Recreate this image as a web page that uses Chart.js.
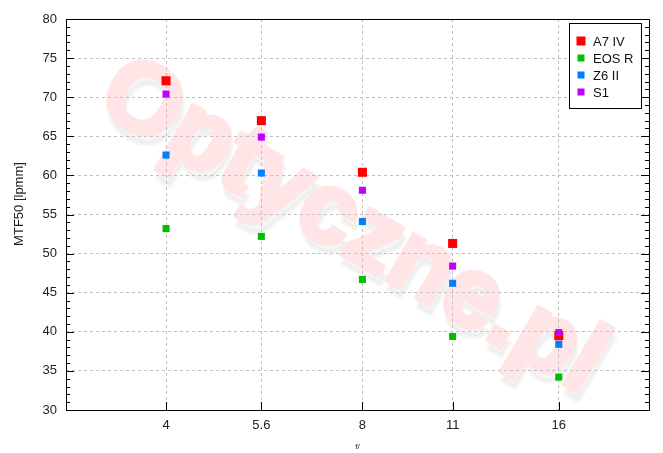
<!DOCTYPE html>
<html>
<head>
<meta charset="utf-8">
<script src="https://cdn.jsdelivr.net/npm/chart.js@4.4.1/dist/chart.umd.min.js"></script>
<style>
  html, body { margin: 0; padding: 0; background: #fff; }
  #wrap { width: 663px; height: 453px; position: relative; }
</style>
</head>
<body>
<div id="wrap"><canvas id="mtfChart"></canvas></div>
<script>
// f-numbers on the x axis
const fNumbers = [4, 5.6, 8, 11, 16];
const yTicks = [30, 35, 40, 45, 50, 55, 60, 65, 70, 75, 80];

// MTF50 readings [lpmm] per camera
const cameraNames = ['A7 IV', 'EOS R', 'Z6 II', 'S1'];
const a7iv = [72.1, 67.0, 60.4, 51.3, 39.5];
const eosR = [53.2, 52.2, 46.7, 39.4, 34.2];
const z6ii = [62.6, 60.3, 54.1, 46.2, 38.4];
const s1   = [70.4, 64.9, 58.1, 48.4, 39.9];

const colors = ['#ff0000', '#00c000', '#0080ff', '#c000ff'];
const FONT = '"Liberation Sans", Arial, sans-serif';

function toPoints(values) {
  return values.map((v, i) => ({ x: fNumbers[i], y: v }));
}

function makeDataset(idx, values, radius, order) {
  return {
    label: cameraNames[idx],
    data: toPoints(values),
    pointStyle: 'rect',
    pointRadius: radius,
    pointHoverRadius: radius,
    pointBorderWidth: 0,
    backgroundColor: colors[idx],
    borderColor: colors[idx],
    order: order
  };
}

// faint watermark behind the grid
const watermark = {
  id: 'watermark',
  beforeDraw(chart) {
    const ctx = chart.ctx;
    ctx.save();
    ctx.translate(352, 228);
    ctx.rotate(0.53);
    ctx.font = 'bold 100px ' + FONT;
    ctx.textAlign = 'center';
    ctx.textBaseline = 'middle';
    ctx.lineJoin = 'round';
    ctx.lineWidth = 5;
    ctx.fillStyle = 'rgba(225,225,225,0.35)';
    ctx.strokeStyle = 'rgba(225,225,225,0.35)';
    ctx.strokeText('Optyczne.pl', 6, 7);
    ctx.fillText('Optyczne.pl', 6, 7);
    ctx.fillStyle = '#ffe5e5';
    ctx.strokeStyle = '#ffe5e5';
    ctx.strokeText('Optyczne.pl', 0, 0);
    ctx.fillText('Optyczne.pl', 0, 0);
    ctx.restore();
  }
};

// frame, inward ticks, titles and the boxed legend
const frame = {
  id: 'frame',
  afterDraw(chart) {
    const ctx = chart.ctx;
    const a = chart.chartArea;
    const xs = chart.scales.x;
    const ys = chart.scales.y;
    ctx.save();
    ctx.strokeStyle = '#000';
    ctx.lineWidth = 1;
    ctx.beginPath();
    ctx.rect(Math.round(a.left) + 0.5, Math.round(a.top) + 0.5,
             Math.round(a.right - a.left), Math.round(a.bottom - a.top));
    // y ticks, left and right
    for (let v = 30; v <= 80; v++) {
      const y = Math.round(ys.getPixelForValue(v)) + 0.5;
      const len = v % 5 === 0 ? 8 : 4;
      ctx.moveTo(a.left, y); ctx.lineTo(a.left + len, y);
      ctx.moveTo(a.right, y); ctx.lineTo(a.right - len, y);
    }
    // x ticks along the bottom
    fNumbers.forEach(f => {
      const x = Math.round(xs.getPixelForValue(f)) + 0.5;
      ctx.moveTo(x, a.bottom); ctx.lineTo(x, a.bottom - 8);
    });
    ctx.stroke();

    // axis titles
    ctx.fillStyle = '#222';
    ctx.font = '13px ' + FONT;
    ctx.textAlign = 'center';
    ctx.textBaseline = 'middle';
    ctx.save();
    ctx.translate(19, 204);
    ctx.rotate(-Math.PI / 2);
    ctx.fillText('MTF50 [lpmm]', 0, 0);
    ctx.restore();
    ctx.font = '8px ' + FONT;
    ctx.fillText('f/', (a.left + a.right) / 2, 447);

    // legend
    ctx.fillStyle = '#fff';
    ctx.fillRect(570, 24, 72, 85);
    ctx.strokeStyle = '#000';
    ctx.strokeRect(569.5, 23.5, 72, 85);
    ctx.font = '13px ' + FONT;
    ctx.textAlign = 'left';
    cameraNames.forEach((name, i) => {
      const cy = 41 + i * 17;
      const s = i === 0 ? 9 : 7;
      ctx.fillStyle = colors[i];
      ctx.fillRect(581 - s / 2, cy - s / 2, s, s);
      ctx.fillStyle = '#111';
      ctx.fillText(name, 593, cy + 1);
    });
    ctx.restore();
  }
};

new Chart(document.getElementById('mtfChart'), {
  type: 'scatter',
  data: {
    datasets: [
      makeDataset(0, a7iv, 6.4, 3),
      makeDataset(1, eosR, 5, 2),
      makeDataset(2, z6ii, 5, 1),
      makeDataset(3, s1, 5, 0)
    ]
  },
  options: {
    responsive: true,
    maintainAspectRatio: false,
    animation: false,
    events: [],
    layout: { padding: { top: 19, right: 14, left: 0, bottom: 0 } },
    plugins: {
      legend: { display: false },
      tooltip: { enabled: false }
    },
    scales: {
      x: {
        type: 'logarithmic',
        min: 2.81,
        max: 22.0,
        afterBuildTicks: scale => {
          scale.ticks = fNumbers.map(v => ({ value: v }));
        },
        afterFit: scale => { scale.height = 43; },
        ticks: {
          callback: v => String(v),
          color: '#222',
          font: { family: FONT, size: 13 },
          padding: 8,
          maxRotation: 0,
          autoSkip: false
        },
        grid: {
          color: '#c0c0c0',
          drawTicks: false
        },
        border: { display: false, dash: [3, 3] }
      },
      y: {
        min: 30,
        max: 80,
        afterBuildTicks: scale => {
          scale.ticks = yTicks.map(v => ({ value: v }));
        },
        afterFit: scale => { scale.width = 66; },
        ticks: {
          color: '#222',
          font: { family: FONT, size: 13 },
          padding: 9
        },
        grid: {
          color: '#c0c0c0',
          drawTicks: false
        },
        border: { display: false, dash: [3, 3] }
      }
    }
  },
  plugins: [watermark, frame]
});
</script>
</body>
</html>
